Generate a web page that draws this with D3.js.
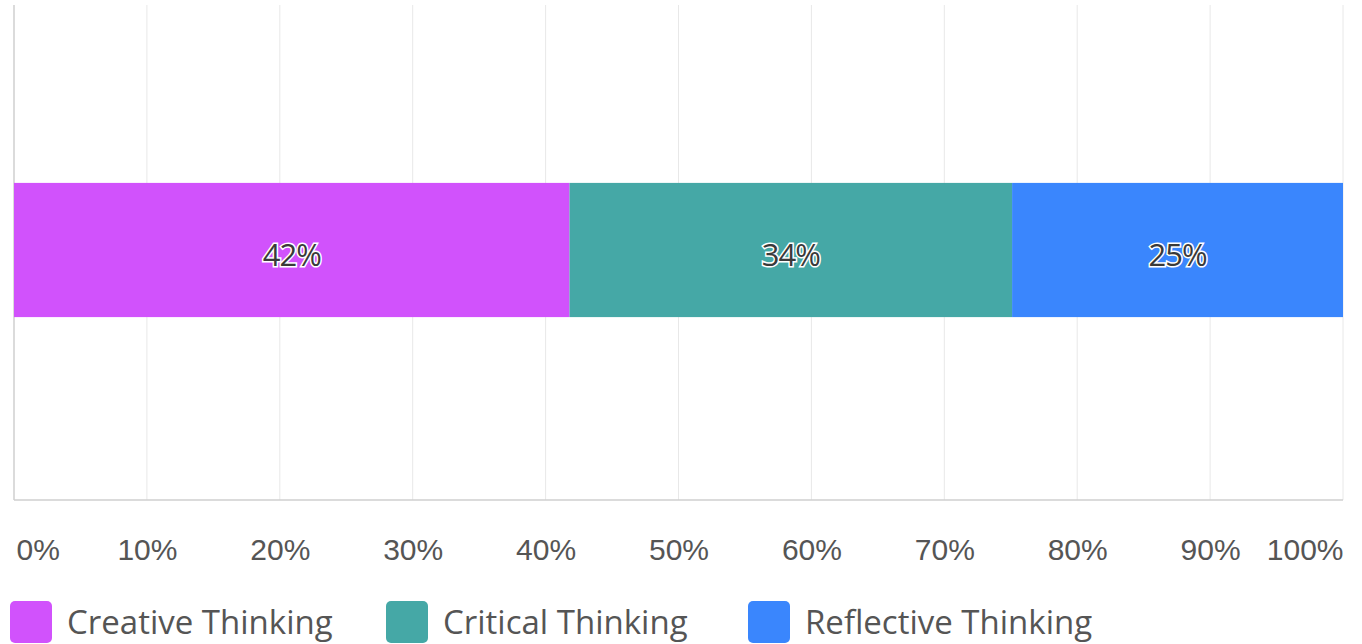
<!DOCTYPE html>
<html>
<head>
<meta charset="utf-8">
<script src="https://cdn.jsdelivr.net/npm/d3@7"></script>
<style>
  body { margin: 0; background: #fff; }
  svg { display: block; font-family: "Open Sans", sans-serif; }
</style>
</head>
<body>
<div id="chart"></div>
<script>
// data
const series = ["Creative Thinking", "Critical Thinking", "Reflective Thinking"];
const values = [41.8, 33.3, 24.9];
const valueLabels = ["42%", "34%", "25%"];
const colors = ["#d152fc", "#45a8a6", "#3a86fd"];
const tickValues = [0, 10, 20, 30, 40, 50, 60, 70, 80, 90, 100];

const W = 1362, H = 644;
const margin = { top: 5, right: 19, bottom: 144, left: 14 };
const width = W - margin.left - margin.right,
      height = H - margin.top - margin.bottom;

const svg = d3.select("#chart").append("svg")
  .attr("width", W).attr("height", H);
const g = svg.append("g")
  .attr("transform", `translate(${margin.left},${margin.top})`);

const x = d3.scaleLinear().domain([0, 100]).range([0, width]);
// band slightly above the middle, as in the original
const y = d3.scaleBand().domain(["row"]).range([0, height - 5]).padding(0.57);

// gridlines
g.append("g")
  .selectAll("line")
  .data(tickValues.slice(1))
  .join("line")
    .attr("x1", d => x(d)).attr("x2", d => x(d))
    .attr("y1", 0).attr("y2", height)
    .attr("stroke", "#e8e8e8").attr("stroke-width", 1);

// left + bottom axis lines
g.append("line").attr("x1", 0).attr("x2", 0).attr("y1", 0).attr("y2", height)
  .attr("stroke", "#cfcfcf").attr("stroke-width", 1.5);
g.append("line").attr("x1", 0).attr("x2", width).attr("y1", height).attr("y2", height)
  .attr("stroke", "#cfcfcf").attr("stroke-width", 1.5);

// stacked segments
const stacked = [];
let acc = 0;
values.forEach((v, i) => { stacked.push({ i, x0: acc, x1: acc + v }); acc += v; });

g.append("g")
  .selectAll("rect")
  .data(stacked)
  .join("rect")
    .attr("x", d => x(d.x0))
    .attr("y", y("row"))
    .attr("width", d => x(d.x1) - x(d.x0))
    .attr("height", y.bandwidth())
    .attr("fill", d => colors[d.i]);

g.append("g")
  .selectAll("text")
  .data(stacked)
  .join("text")
    .attr("x", d => (x(d.x0) + x(d.x1)) / 2)
    .attr("y", y("row") + y.bandwidth() / 2 + 4)
    .attr("text-anchor", "middle")
    .attr("dominant-baseline", "central")
    .attr("font-size", 31)
    .attr("letter-spacing", -1)
    .attr("fill", "#3a3a3a")
    .attr("stroke", "#fff").attr("stroke-width", 3)
    .attr("paint-order", "stroke")
    .text(d => valueLabels[d.i]);

// x axis tick labels
const xAxis = g.append("g")
  .attr("transform", `translate(0,${height})`)
  .call(d3.axisBottom(x).tickValues(tickValues).tickSize(0).tickPadding(39)
    .tickFormat(d => d + "%"));
xAxis.select(".domain").remove();
xAxis.selectAll("text")
  .attr("fill", "#555")
  .style("font-size", "30px")
  .attr("text-anchor", d => d === 0 ? "start" : d === 100 ? "end" : "middle")
  .attr("dx", d => d === 0 ? 2 : 0);

// legend
const legendX = [10, 386, 748];
const legend = svg.append("g").attr("transform", "translate(0,601)");
series.forEach((s, i) => {
  legend.append("rect")
    .attr("x", legendX[i]).attr("y", 0)
    .attr("width", 42).attr("height", 42).attr("rx", 5)
    .attr("fill", colors[i]);
  legend.append("text")
    .attr("x", legendX[i] + 57).attr("y", 33)
    .attr("fill", "#555")
    .style("font-size", "33px")
    .text(s);
});
</script>
</body>
</html>
